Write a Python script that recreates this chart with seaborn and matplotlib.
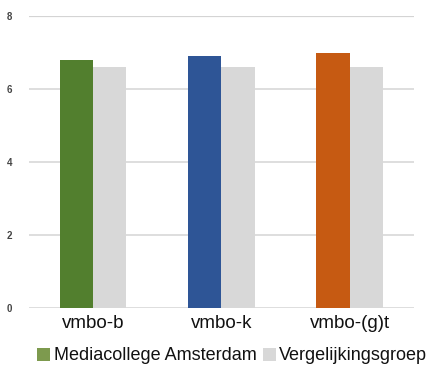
import matplotlib
matplotlib.use("Agg")
import matplotlib.pyplot as plt
from matplotlib.patches import Patch
import seaborn as sns
import pandas as pd

categories = ["vmbo-b", "vmbo-k", "vmbo-(g)t"]
series = ["Mediacollege Amsterdam", "Vergelijkingsgroep"]
school_values = [6.8, 6.9, 7.0]
comparison_values = [6.6, 6.6, 6.6]
yticks = [0, 2, 4, 6, 8]

school_colors = ["#527f2e", "#2e5596", "#c65a12"]
comparison_color = "#d8d8d8"
legend_green = "#7d9a4e"

sns.set_theme(style="white")
plt.rcParams["font.family"] = ["Liberation Sans", "DejaVu Sans"]

df = pd.DataFrame({
    "category": categories * 2,
    "value": school_values + comparison_values,
    "series": [series[0]] * 3 + [series[1]] * 3,
})

fig = plt.figure(figsize=(4.38, 3.65), dpi=100)
ax = fig.add_axes([0.066, 0.156, 0.879, 0.80])

sns.barplot(data=df, x="category", y="value", hue="series",
            palette=[school_colors[0], comparison_color],
            width=0.52, saturation=1, legend=False, ax=ax, zorder=3)

# colour each school bar by its level
for patch, color in zip(ax.patches[:3], school_colors):
    patch.set_facecolor(color)
for patch in ax.patches:
    patch.set_edgecolor("none")

ax.set_ylim(0, 8)
ax.set_xlim(-0.5, 2.5)
ax.set_yticks(yticks)
ax.set_yticklabels([str(t) for t in yticks], fontsize=7, color="#444444",
                   fontweight="bold")
ax.tick_params(axis="y", length=0, pad=12)
ax.tick_params(axis="x", length=0, pad=5, labelsize=13.5, labelcolor="#111111")
for t in yticks:
    ax.axhline(t, color="#d4d4d4", lw=1.6 if t == 8 else 1.1, zorder=1)
ax.set_xlabel("")
ax.set_ylabel("")
for s in ax.spines.values():
    s.set_visible(False)

handles = [Patch(facecolor=legend_green, edgecolor="none"),
           Patch(facecolor=comparison_color, edgecolor="none")]
fig.legend(handles, series, loc="center", bbox_to_anchor=(0.53, 0.025),
           ncol=2, frameon=False, fontsize=13, handlelength=0.72,
           handleheight=0.72, handletextpad=0.2, columnspacing=0.35,
           borderaxespad=0, labelcolor="#111111")

fig.savefig("out.png", dpi=100)
